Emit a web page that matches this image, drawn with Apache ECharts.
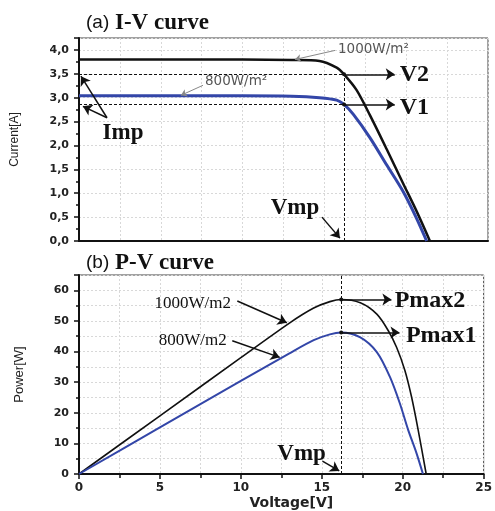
<!DOCTYPE html>
<html>
<head>
<meta charset="utf-8">
<script src="https://cdn.jsdelivr.net/npm/echarts@6/dist/echarts.min.js"></script>
<style>html,body{margin:0;padding:0;background:#fff}#chart{width:495px;height:511px}</style>
</head>
<body>
<div id="chart"></div>
<script>
// I-V curve values
var ivVolt1000 = [0, 5, 10, 13, 14.7, 15.75, 16.2, 16.97, 17.79, 18.81, 19.82, 20.64, 21.45];
var ivCurr1000 = [3.8, 3.8, 3.8, 3.79, 3.77, 3.63, 3.49, 3.16, 2.63, 1.92, 1.2, 0.62, 0];
var ivVolt800 = [0, 5, 10, 13, 14.7, 15.75, 16.2, 16.77, 17.79, 18.81, 19.82, 20.64, 21.25];
var ivCurr800 = [3.04, 3.04, 3.04, 3.03, 3.0, 2.95, 2.86, 2.65, 2.16, 1.59, 1.03, 0.47, 0];

// P-V curve values
var pvVolt1000 = [0, 5, 10, 13, 14.5, 15.5, 16.2, 17.38, 18.4, 19.11, 19.62, 20.13, 20.54, 20.95, 21.45];
var pvPow1000 = [0, 19, 38, 49.3, 54.2, 56.3, 57, 55.9, 52.2, 46.8, 41.4, 33.9, 25.3, 14.5, 0];
var pvVolt800 = [0, 5, 10, 13, 14.5, 15.5, 16.2, 17.38, 18.4, 19.21, 19.82, 20.33, 20.84, 21.25];
var pvPow800 = [0, 15.2, 30.4, 39.4, 43.7, 45.6, 46.2, 44.6, 39.8, 31.7, 23.1, 14.5, 7.0, 0];

// operating points
var vmp = 16.2;
var imp1000 = 3.49, imp800 = 2.86;
var pmax1000 = 57, pmax800 = 46.2;

function zip(a, b) {
  return a.map(function (v, i) { return [v, b[i]]; });
}

var chart = echarts.init(document.getElementById('chart'), null, { renderer: 'canvas' });

var black = '#111';
var blue = '#3346a8';
var gridDot = { color: '#d8d8d8', type: [2, 2], width: 1 };
var tickFont = { fontFamily: 'DejaVu Sans', fontWeight: 'bold', fontSize: 11, color: '#222' };

function seg(a, b, style, s1, s2) {
  return [
    { coord: a, symbol: s1 || 'none', symbolSize: s1 === 'circle' ? 4 : 9, lineStyle: style },
    { coord: b, symbol: s2 || 'none', symbolSize: s2 === 'arrow' ? (style.color === '#888' ? 6 : 9) : 4 }
  ];
}
var dash = { color: black, width: 1, type: [3, 2] };
var solid = { color: black, width: 1.5, type: 'solid' };
var grey = { color: '#888', width: 1, type: 'solid' };

function mk(lines) {
  return { silent: true, animation: false, label: { show: false }, data: lines };
}

var option = {
  backgroundColor: '#fff',
  animation: false,
  grid: [
    { left: 79, top: 38, right: 7, height: 203, show: true, borderColor: '#444', borderWidth: 1 },
    { left: 79, top: 275, right: 7, height: 200, show: true, borderColor: '#444', borderWidth: 1 }
  ],
  xAxis: [{
    gridIndex: 0, type: 'value', min: 0, max: 25, interval: 5,
    axisLine: { lineStyle: { color: black, width: 2 } },
    axisTick: { show: false },
    axisLabel: { show: false },
    splitLine: { lineStyle: gridDot },
    minorTick: { show: false, splitNumber: 2 },
    minorSplitLine: { show: true, lineStyle: gridDot }
  }, {
    gridIndex: 1, type: 'value', min: 0, max: 25, interval: 5,
    name: 'Voltage[V]', nameLocation: 'middle', nameGap: 22,
    nameTextStyle: { fontFamily: 'DejaVu Sans', fontWeight: 'bold', fontSize: 14, color: '#222', padding: [0, 0, 0, 20] },
    axisLine: { lineStyle: { color: black, width: 2 } },
    axisTick: { length: 5, lineStyle: { color: black, width: 1.5 } },
    axisLabel: Object.assign({ margin: 8 }, tickFont, { fontSize: 12 }),
    splitLine: { lineStyle: gridDot },
    minorTick: { show: true, splitNumber: 2, length: 4, lineStyle: { color: black, width: 1.5 } },
    minorSplitLine: { show: true, lineStyle: gridDot }
  }],
  yAxis: [{
    gridIndex: 0, type: 'value', min: 0, max: 4.25, interval: 0.5,
    name: 'Current[A]', nameLocation: 'middle', nameGap: 58,
    nameTextStyle: { fontFamily: 'Liberation Sans', fontSize: 12, color: '#222' },
    axisLine: { show: true, lineStyle: { color: black, width: 2 } },
    axisTick: { show: true, length: 5, lineStyle: { color: black, width: 1.5 } },
    axisLabel: Object.assign({ margin: 10, showMaxLabel: false,
      formatter: function (v) { return v.toFixed(1).replace('.', ','); } }, tickFont),
    splitLine: { lineStyle: gridDot },
    minorTick: { show: true, splitNumber: 2, length: 3, lineStyle: { color: black, width: 1.5 } }
  }, {
    gridIndex: 1, type: 'value', min: 0, max: 65, interval: 10,
    name: 'Power[W]', nameLocation: 'middle', nameGap: 53,
    nameTextStyle: { fontFamily: 'Liberation Sans', fontSize: 13, color: '#222' },
    axisLine: { show: true, lineStyle: { color: black, width: 2 } },
    axisTick: { show: true, length: 5, lineStyle: { color: black, width: 1.5 } },
    axisLabel: Object.assign({ margin: 10, showMaxLabel: false }, tickFont),
    splitLine: { lineStyle: gridDot },
    minorTick: { show: true, splitNumber: 2, length: 3, lineStyle: { color: black, width: 1.5 } },
    minorSplitLine: { show: true, lineStyle: gridDot }
  }],
  series: [{
    name: 'I-V 1000', type: 'line', xAxisIndex: 0, yAxisIndex: 0,
    data: zip(ivVolt1000, ivCurr1000), smooth: 0.3, showSymbol: false,
    lineStyle: { color: black, width: 2.5 },
    markLine: mk([
      seg([0, imp1000], [vmp, imp1000], dash),
      seg([0, imp800], [vmp, imp800], dash),
      seg([vmp, 0], [vmp, imp1000], dash),
      seg([vmp, imp1000], [19.3, imp1000], solid, 'circle', 'arrow'),
      seg([vmp, imp800], [19.3, imp800], solid, 'circle', 'arrow'),
      seg([1.71, 2.58], [0.12, 3.45], solid, null, 'arrow'),
      seg([1.71, 2.58], [0.24, 2.82], solid, null, 'arrow'),
      seg([14.85, 0.5], [15.95, 0.06], solid, null, 'arrow'),
      seg([15.65, 3.99], [13.2, 3.8], grey, null, 'arrow'),
      seg([7.58, 3.26], [6.23, 3.05], grey, null, 'arrow')
    ])
  }, {
    name: 'I-V 800', type: 'line', xAxisIndex: 0, yAxisIndex: 0,
    data: zip(ivVolt800, ivCurr800), smooth: 0.3, showSymbol: false,
    lineStyle: { color: blue, width: 3 }
  }, {
    name: 'P-V 1000', type: 'line', xAxisIndex: 1, yAxisIndex: 1,
    data: zip(pvVolt1000, pvPow1000), smooth: 0.3, showSymbol: false,
    lineStyle: { color: black, width: 1.6 },
    markLine: mk([
      seg([vmp, 0], [vmp, 65], dash),
      seg([vmp, pmax1000], [19.3, pmax1000], solid, 'circle', 'arrow'),
      seg([vmp, pmax800], [19.8, pmax800], solid, 'circle', 'arrow'),
      seg([9.78, 56.5], [12.84, 49.4], solid, null, 'arrow'),
      seg([9.47, 43.5], [12.4, 38.1], solid, null, 'arrow'),
      seg([15.04, 4.2], [16.08, 1], solid, null, 'arrow')
    ])
  }, {
    name: 'P-V 800', type: 'line', xAxisIndex: 1, yAxisIndex: 1,
    data: zip(pvVolt800, pvPow800), smooth: 0.3, showSymbol: false,
    lineStyle: { color: blue, width: 2 }
  }]
};
chart.setOption(option);

// annotation texts, anchored in data space
function txt(g, p, text, font, align, fill) {
  var xy = chart.convertToPixel({ gridIndex: g }, p);
  return {
    type: 'text', silent: true,
    style: { text: text, x: xy[0], y: xy[1], font: font, fill: fill || '#111',
      textAlign: align || 'center', align: align || 'center',
      textVerticalAlign: 'middle', verticalAlign: 'middle' }
  };
}
var serifB = 'bold 24px "Liberation Serif"';
var graphics = [
  { type: 'text', silent: true, style: { text: '(a)', x: 86, y: 23, font: '19px "Liberation Sans"', fill: '#111', verticalAlign: 'middle', textVerticalAlign: 'middle' } },
  { type: 'text', silent: true, style: { text: 'I-V curve', x: 115, y: 23, font: 'bold 23px "Liberation Serif"', fill: '#111', verticalAlign: 'middle', textVerticalAlign: 'middle' } },
  { type: 'text', silent: true, style: { text: '(b)', x: 86, y: 263, font: '19px "Liberation Sans"', fill: '#111', verticalAlign: 'middle', textVerticalAlign: 'middle' } },
  { type: 'text', silent: true, style: { text: 'P-V curve', x: 115, y: 263, font: 'bold 23px "Liberation Serif"', fill: '#111', verticalAlign: 'middle', textVerticalAlign: 'middle' } },
  txt(0, [15.83, 4.01], '1000W/m²', '13.5px "DejaVu Sans"', 'left', '#555'),
  txt(0, [7.7, 3.34], '800W/m²', '13.5px "DejaVu Sans"', 'left', '#555'),
  txt(0, [19.6, 3.49], 'V2', serifB, 'left'),
  txt(0, [19.6, 2.79], 'V1', serifB, 'left'),
  txt(0, [2.69, 2.27], 'Imp', 'bold 23px "Liberation Serif"'),
  txt(0, [13.2, 0.69], 'Vmp', 'bold 23px "Liberation Serif"'),
  txt(1, [7.03, 55.8], '1000W/m2', '17px "Liberation Serif"'),
  txt(1, [7.03, 43.5], '800W/m2', '17px "Liberation Serif"'),
  txt(1, [19.5, 56.5], 'Pmax2', serifB, 'left'),
  txt(1, [20.2, 45.2], 'Pmax1', serifB, 'left'),
  txt(1, [13.75, 6.5], 'Vmp', 'bold 23px "Liberation Serif"')
];
chart.setOption({ graphic: graphics });
</script>
</body>
</html>
